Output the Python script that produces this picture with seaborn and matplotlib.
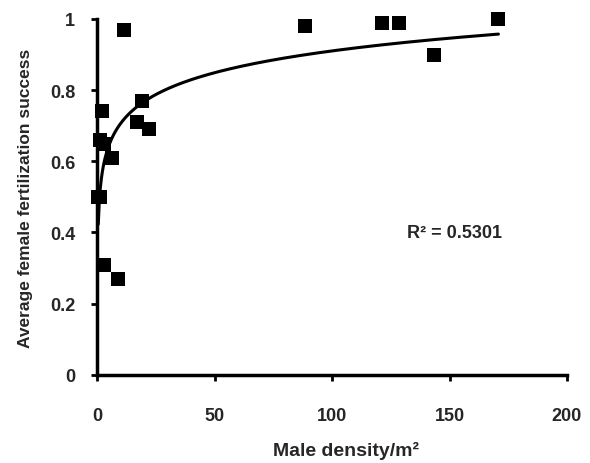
import numpy as np
import seaborn as sns
import matplotlib.pyplot as plt

# male density (per m2) and average female fertilization success
densidade = [0.4, 1.3, 2.0, 1.0, 3.0, 6.2, 2.7, 8.6, 11.2, 16.9, 19.0, 21.8,
             88.5, 121.1, 128.6, 143.4, 170.8]
sucesso = [0.50, 0.50, 0.74, 0.66, 0.65, 0.61, 0.31, 0.27, 0.97, 0.71, 0.77, 0.69,
           0.98, 0.99, 0.99, 0.90, 1.00]

x_ticks = [0, 50, 100, 150, 200]
y_ticks = [0, 0.2, 0.4, 0.6, 0.8, 1]
y_labels = ["0", "0.2", "0.4", "0.6", "0.8", "1"]

sns.set_theme(style="ticks")
plt.rcParams['font.family'] = ['Liberation Sans', 'DejaVu Sans']
plt.rcParams['font.weight'] = 'bold'
plt.rcParams['axes.labelweight'] = 'bold'

fig, ax = plt.subplots(figsize=(5.9, 4.64), dpi=100)
fig.subplots_adjust(left=0.165, right=0.961, top=0.957, bottom=0.19)

sns.scatterplot(x=densidade, y=sucesso, marker='s', s=100, color='black',
                edgecolor='black', linewidth=0, ax=ax, zorder=3, clip_on=False)

# linha de tendência logarítmica (como no Excel)
xs = np.array(densidade)
ys = np.array(sucesso)
a, b = np.polyfit(np.log(xs), ys, 1)
x_fit = np.linspace(xs.min(), xs.max(), 400)
y_fit = a * np.log(x_fit) + b
ax.plot(x_fit, y_fit, color='black', linewidth=2.2, zorder=2)

ax.text(152, 0.40, "R² = 0.5301", fontsize=13, ha='center', va='center')

ax.set_xlim(0, 200)
ax.set_ylim(0, 1)
ax.set_xticks(x_ticks)
ax.set_yticks(y_ticks)
ax.set_yticklabels(y_labels)
ax.tick_params(labelsize=13, width=2, length=4, color='black', pad=12)
ax.tick_params(axis='x', pad=19)
for lado in ['left', 'bottom']:
    ax.spines[lado].set_linewidth(2.5)
    ax.spines[lado].set_color('black')
sns.despine(ax=ax)

ax.set_xlabel("Male density/m²", fontsize=14)
ax.xaxis.set_label_coords(0.53, -0.185)
ax.set_ylabel("Average female fertilization success", fontsize=12.5, labelpad=12)

plt.savefig("out.png", dpi=100)
